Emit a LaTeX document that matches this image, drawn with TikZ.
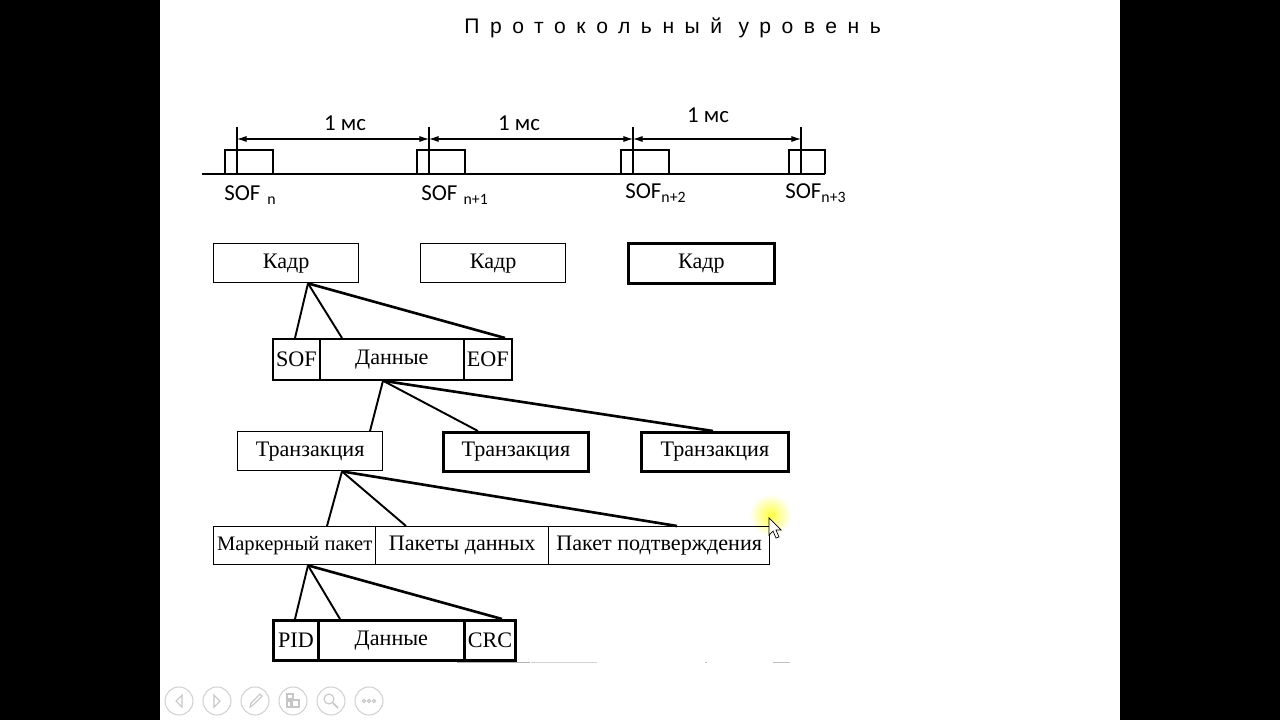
\documentclass[tikz,border=0pt]{standalone}
\usepackage{fontspec}
\setmainfont{Liberation Serif}
\newfontfamily\calib{Carlito}
\newfontfamily\titlefont[LetterSpace=50]{Liberation Sans}
\usetikzlibrary{arrows.meta,calc}
\begin{document}
\begin{tikzpicture}[x=0.02cm,y=-0.02cm,
  cell/.style={draw, inner sep=0pt, anchor=north west, font=\fontsize{12.6}{14}\selectfont, line width=0.8pt},
  boldcell/.style={cell, line width=1.6pt},
  link/.style={line width=1.1pt},
  farlink/.style={line width=1.5pt},
  tl/.style={line width=0.6pt},
  dimarrow/.style={line width=0.6pt, {Latex[length=5.5pt,width=3.5pt]}-{Latex[length=5.5pt,width=3.5pt]}},
  sans/.style={font=\calib\fontsize{13}{15}\selectfont},
  ctrl/.style={draw=gray!35, line width=0.6pt},
  ctrlicon/.style={draw=gray!45, line width=0.6pt}
]
\useasboundingbox (0,0) rectangle (1280,720);
\fill[black] (0,0) rectangle (160,720);
\fill[black] (1120,0) rectangle (1280,720);
\fill[white] (160,0) rectangle (1120,720);

% title
\node[anchor=base west, inner sep=0pt, font=\titlefont\fontsize{12}{14}\selectfont] (title) at (464,33) {Протокольный уровень};

% timeline
\draw[tl] (202,174) -- (825,174);
\draw[tl] (225,174) -- (225,150) -- (273,150) -- (273,174);
\draw[tl] (417,174) -- (417,150) -- (465,150) -- (465,174);
\draw[tl] (621,174) -- (621,150) -- (669,150) -- (669,174);
\draw[tl] (789,174) -- (789,150) -- (825,150) -- (825,174);
\foreach \i/\x in {1/237,2/429,3/633,4/801}{
  \coordinate (tt\i) at (\x,127);
  \coordinate (tb\i) at (\x,174);
  \coordinate (ta\i) at (\x,139);
  \draw[tl] (tt\i) -- (tb\i);
}
\draw[dimarrow] (ta1) -- (ta2);
\draw[dimarrow] (ta2) -- (ta3);
\draw[dimarrow] (ta3) -- (ta4);
\node[sans] (ms1) at (345,123) {1 мс};
\node[sans] (ms2) at (519,123) {1 мс};
\node[sans] (ms3) at (708,115) {1 мс};
\node[sans, anchor=base west, inner sep=0pt] (sof1l) at (224,200) {SOF\hspace{4pt}\raisebox{-2.5pt}{\fontsize{9}{10}\selectfont n}};
\node[sans, anchor=base west, inner sep=0pt] (sof2l) at (421,200) {SOF\hspace{3.5pt}\raisebox{-2.5pt}{\fontsize{9}{10}\selectfont n+1}};
\node[sans, anchor=base west, inner sep=0pt] (sof3l) at (625,198) {SOF\raisebox{-2.5pt}{\fontsize{9}{10}\selectfont n+2}};
\node[sans, anchor=base west, inner sep=0pt] (sof4l) at (785,198) {SOF\raisebox{-2.5pt}{\fontsize{9}{10}\selectfont n+3}};

% cursor glow (behind boxes)
\shade[inner color=yellow!75!white, outer color=white] (770,515) circle (21);

% frames
\node[cell, minimum width=2.9cm, minimum height=0.78cm] (k1) at (213,243) {Кадр};
\node[cell, minimum width=2.9cm, minimum height=0.78cm] (k2) at (420,243) {Кадр};
\node[boldcell, minimum width=2.92cm, minimum height=0.8cm] (k3) at (627,242) {Кадр};

% SOF / Данные / EOF
\node[cell, line width=1pt, minimum width=0.94cm, minimum height=0.82cm] (sof1) at (272,338) {SOF};
\node[cell, line width=1pt, minimum width=2.88cm, minimum height=0.82cm] (dat1) at (319,338) {Данные};
\node[cell, line width=1pt, minimum width=0.96cm, minimum height=0.82cm] (eof1) at (463,338) {EOF};

% transactions
\node[cell, minimum width=2.9cm, minimum height=0.78cm] (tr1) at (237,431) {Транзакция};
\node[boldcell, minimum width=2.9cm, minimum height=0.78cm] (tr2) at (442,431) {Транзакция};
\node[boldcell, minimum width=2.94cm, minimum height=0.78cm] (tr3) at (640,431) {Транзакция};

% packets
\node[cell, font=\fontsize{11.7}{13}\selectfont, minimum width=3.24cm, minimum height=0.76cm] (mark) at (213,526) {Маркерный пакет};
\node[cell, minimum width=3.46cm, minimum height=0.76cm] (pdat) at (375,526) {Пакеты данных};
\node[cell, minimum width=4.42cm, minimum height=0.76cm] (ack) at (548,526) {Пакет подтверждения};

% PID / Данные / CRC
\node[boldcell, minimum width=0.9cm, minimum height=0.8cm] (pid) at (272,619) {PID};
\node[boldcell, minimum width=2.92cm, minimum height=0.8cm] (dat2) at (317,619) {Данные};
\node[boldcell, minimum width=1.02cm, minimum height=0.8cm] (crc) at (463,619) {CRC};

% connectors
\draw[link] ($(k1.south west)+(95,0)$) -- ($(sof1.north west)+(23,0)$);
\draw[link] ($(k1.south west)+(95,0)$) -- ($(dat1.north west)+(23,0)$);
\draw[farlink] ($(k1.south west)+(95,0)$) -- ($(eof1.north west)+(42,0)$);

\draw[link] ($(dat1.south west)+(64,0)$) -- ($(tr1.north west)+(133,0)$);
\draw[link] ($(dat1.south west)+(64,0)$) -- ($(tr2.north west)+(36,0)$);
\draw[farlink] ($(dat1.south west)+(64,0)$) -- ($(tr3.north west)+(73,0)$);

\draw[link] ($(tr1.south west)+(105,0)$) -- ($(mark.north west)+(114,0)$);
\draw[link] ($(tr1.south west)+(105,0)$) -- ($(pdat.north west)+(31,0)$);
\draw[farlink] ($(tr1.south west)+(105,0)$) -- ($(ack.north west)+(129,0)$);

\draw[link] ($(mark.south west)+(95,0)$) -- ($(pid.north west)+(23,0)$);
\draw[link] ($(mark.south west)+(95,0)$) -- ($(dat2.north west)+(23,0)$);
\draw[farlink] ($(mark.south west)+(95,0)$) -- ($(crc.north west)+(39,0)$);

% faint marks below
\draw[gray!60, line width=0.5pt] (457,662) -- (530,662);
\draw[gray!35, line width=0.5pt] (531,662) -- (597,662);
\draw[gray!50, line width=0.5pt] (705,662) -- (707,662);
\draw[gray!50, line width=0.5pt] (773,662) -- (790,662);

% cursor
\draw[fill=white, line width=0.4pt] (769,518) -- (769,535) -- (773,531) -- (776,538) -- (779,537) -- (776,530) -- (781,530) -- cycle;

% presentation controls
\foreach \x in {179,217,255,293,331,369}{\draw[ctrl] (\x,701) circle (14);}
\draw[ctrlicon] (182,695) -- (176,701) -- (182,707) -- cycle;
\draw[ctrlicon] (214,695) -- (220,701) -- (214,707) -- cycle;
\draw[ctrlicon] (250,707) -- (251,703) -- (260,694) -- (262,696) -- (253,705) -- cycle;
\draw[ctrlicon] (287,694) rectangle (293,699);
\draw[ctrlicon] (287,701) rectangle (291,707);
\draw[ctrlicon] (292,700) rectangle (299,707);
\draw[ctrlicon] (329,699) circle (5);
\draw[ctrlicon, line width=1pt] (333,703) -- (338,708);
\foreach \x in {364,369,374}{\draw[ctrlicon] (\x,701) circle (1.6);}
\end{tikzpicture}
\end{document}
